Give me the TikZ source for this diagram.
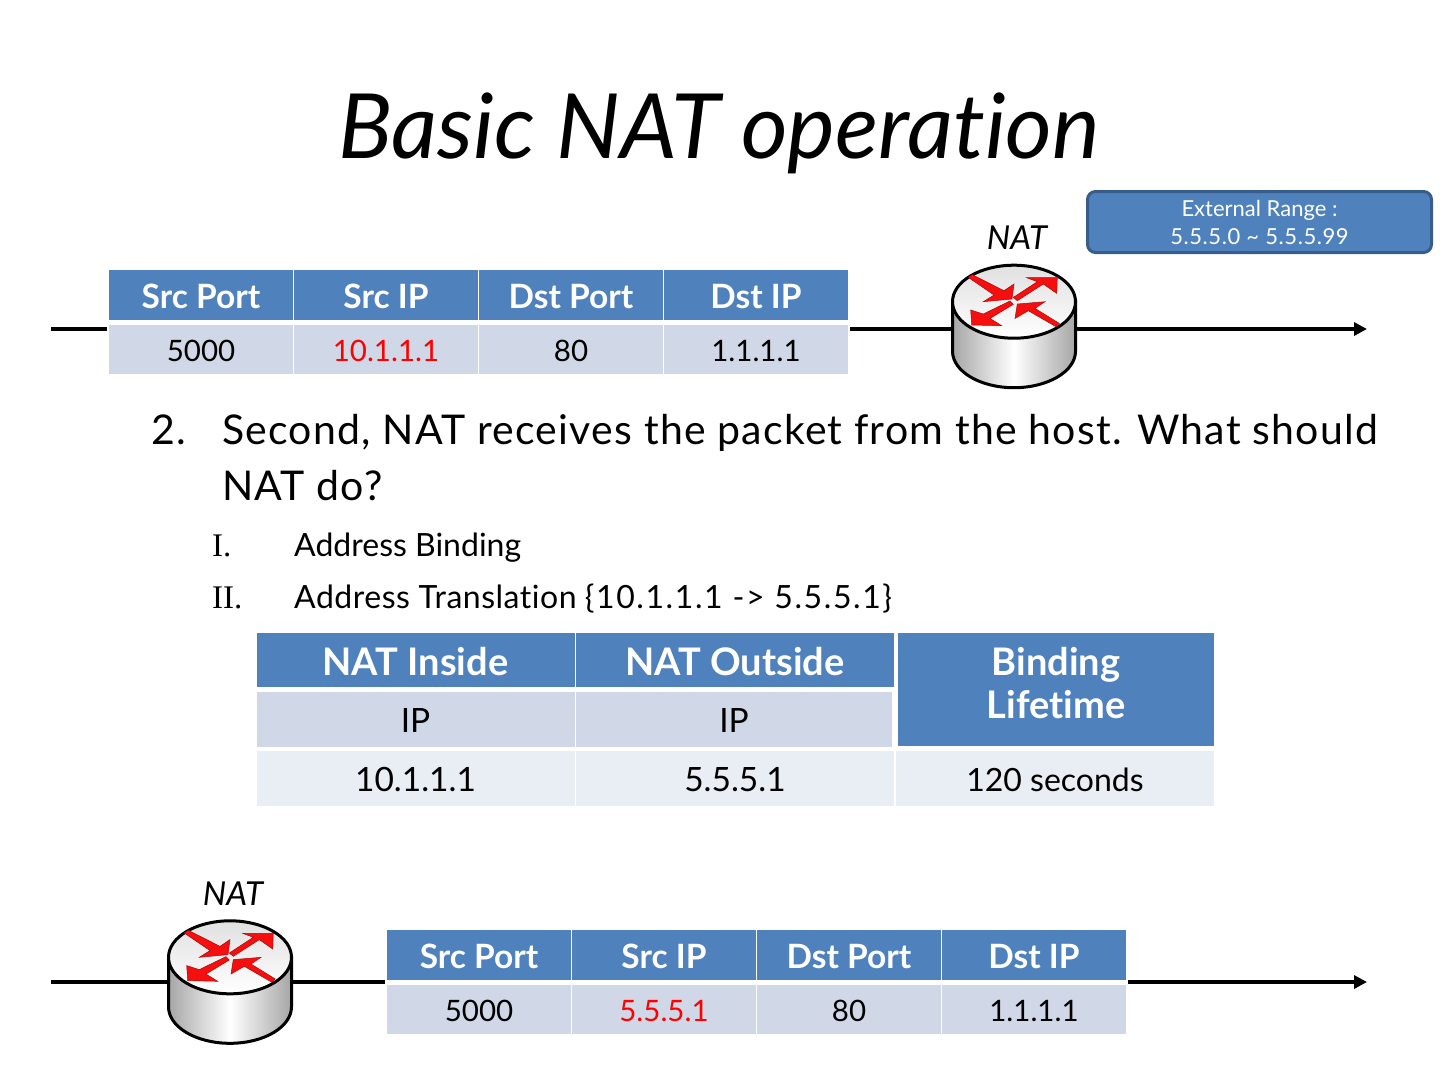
\documentclass[tikz,border=0pt]{standalone}
\usepackage{fontspec}
\setmainfont{Lato}[Ligatures=NoCommon]
\newfontfamily\romanfont{Liberation Serif}
\usetikzlibrary{arrows.meta}

\definecolor{hdrblue}{HTML}{4F81BD}
\definecolor{rowdark}{HTML}{D0D8E8}
\definecolor{rowlight}{HTML}{E9EDF4}
\definecolor{rangeedge}{HTML}{385D8A}
\definecolor{arrowred}{HTML}{F50F0F}

\newcommand{\spaced}[2]{{\addfontfeature{LetterSpace=#1}#2}}

\tikzset{
	wire/.style={line width=4pt},
	hdrcell/.style={fill=hdrblue,text=white,inner sep=0pt,minimum width=184pt,minimum height=50pt,
		font=\fontsize{33.5}{33.5}\selectfont\bfseries,text height=27pt,text depth=0pt},
	datacell/.style={fill=rowdark,inner sep=0pt,minimum width=184pt,minimum height=49pt,
		font=\fontsize{29.5}{29.5}\selectfont,text height=23pt,text depth=0pt},
	bighdr/.style={fill=hdrblue,text=white,inner sep=0pt,minimum width=318pt,minimum height=54pt,
		font=\fontsize{38}{38}\selectfont\bfseries,text height=31pt,text depth=0pt},
	bigdata/.style={inner sep=0pt,minimum width=318pt,minimum height=55pt,
		font=\fontsize{33.5}{33.5}\selectfont,text height=25pt,text depth=0pt},
	bodytext/.style={anchor=base west,inner sep=0pt,font=\fontsize{41}{41}\selectfont\addfontfeature{LetterSpace=3}},
	subtext/.style={anchor=base west,inner sep=0pt,font=\fontsize{32}{32}\selectfont},
	natlabel/.style={inner sep=0pt,font=\fontsize{33}{33}\selectfont\itshape},
	redarrow/.style={fill=arrowred,draw=arrowred!70!black,line width=.5pt},
}

% header row and data row of one packet
\newcommand{\packettable}[4]{
	\begin{scope}[shift={(#2,#3)},name prefix=#1-]
		\node[hdrcell] (sport) at (92,25){Src Port};
		\node[hdrcell] (sip) at (277,25){Src IP};
		\node[hdrcell] (dport) at (462,25){Dst Port};
		\node[hdrcell] (dip) at (647,25){Dst IP};
		\node[datacell] (vsport) at (92,79.5){5000};
		\node[datacell,text=red] (vsip) at (277,79.5){#4};
		\node[datacell] (vdport) at (462,79.5){80};
		\node[datacell] (vdip) at (647,79.5){1.1.1.1};
	\end{scope}
}

% router drawn around the centre of its top face
\newcommand{\natrouter}[3]{
	\node[minimum width=126pt,minimum height=126pt,inner sep=0pt] (#1) at (#2,#3+25){};
	\begin{scope}[shift={(#2,#3)}]
		\draw[line width=3pt,left color=black!35,right color=black!35,middle color=white]
			(-61.5,0) -- (-61.5,49.5) arc[start angle=180,end angle=360,x radius=61.5pt,y radius=36.5pt] -- (61.5,0) -- cycle;
		\draw[line width=3pt,top color=black!12,bottom color=white] (0,0) ellipse[x radius=61.5pt,y radius=36.5pt];
		\draw[redarrow] (-45.7,-24.3)--(-41.7,-27)--(-10,-11)--(0,-17.7)--(-2,-2.7)--(-30.7,0)--(-20,-6.7)--cycle;
		\draw[redarrow] (-0.7,-4.3)--(3.3,-1)--(29.3,-17.7)--(42.7,-8.3)--(43.3,-24)--(12.7,-24)--(23.3,-20)--cycle;
		\draw[redarrow] (-4,-0.7)--(-0.7,2.7)--(-24,16.7)--(-12.3,24)--(-42.3,23.3)--(-43.3,8.3)--(-30.7,12.3)--cycle;
		\draw[redarrow] (45.3,21.7)--(42,25)--(14.3,9)--(1,16.7)--(3.3,2.3)--(31,0)--(21,6.7)--cycle;
		\node[natlabel] (#1-label) at (3,-64){NAT};
	\end{scope}
}

\begin{document}
\begin{tikzpicture}[x=1pt,y=-1pt]
	\useasboundingbox (0,0) rectangle (1440,1080);

	\node[anchor=base,inner sep=0pt,font=\fontsize{90}{90}\selectfont\itshape] (title) at (719,158){Basic NAT operation};

	% top packet
	\packettable{top}{109}{270}{10.1.1.1}
	\natrouter{natTop}{1014}{301.7}
	\node[draw=rangeedge,fill=hdrblue,line width=3pt,rounded corners=8pt,minimum width=344pt,minimum height=61pt,
		inner sep=0pt,text=white,align=center,font=\fontsize{22}{28}\selectfont] (range) at (1259.5,222){External Range :\\\spaced{2.5}{5.5.5.0 \textasciitilde{} 5.5.5.99}};

	\coordinate (topStart) at (51,329);
	\coordinate (topEnd) at (1367,329);
	\draw[wire,shorten >=2pt] (topStart) -- (top-sport.west |- topStart);
	\draw[wire,shorten <=2pt] (top-dip.east |- topStart) -- (natTop.west |- topStart);
	\draw[wire,-{Triangle[length=13pt,width=13pt]}] (natTop.east |- topStart) -- (topEnd);

	% explanation
	\node[bodytext] (num) at (151,444){2.};
	\node[bodytext] (lineA) at (222,444){Second, NAT receives the packet from the host. What should};
	\node[bodytext] (lineB) at (222,500){NAT do?};
	\node[subtext,font=\fontsize{33}{33}\selectfont\romanfont] (romA) at (212,556){I.};
	\node[subtext] (subA) at (294,556){Address Binding};
	\node[subtext,font=\fontsize{33}{33}\selectfont\romanfont] (romB) at (212,608){II.};
	\node[subtext] (subB) at (294,608){\spaced{1.6}{Address Translation} \spaced{5}{\{10.1.1.1 -> 5.5.5.1\}}};

	% binding table
	\node[bighdr] (inside) at (415.5,660){NAT Inside};
	\node[bighdr] (outside) at (735,660){NAT Outside};
	\node[bigdata,fill=rowdark] (ipIn) at (415.5,719.5){IP};
	\node[bigdata,fill=rowdark,minimum width=316pt] (ipOut) at (734,719.5){IP};
	\node[bigdata,fill=rowlight] (valIn) at (415.5,778.5){10.1.1.1};
	\node[bigdata,fill=rowlight] (valOut) at (735,778.5){5.5.5.1};
	\node[fill=hdrblue,inner sep=0pt,minimum width=316pt,minimum height=113pt] (life) at (1056,689.5){};
	\node[text=white,inner sep=0pt,align=center,font=\fontsize{38}{43}\selectfont\bfseries] (lifeText) at (1056,683){Binding\\Lifetime};
	\node[bigdata,fill=rowlight,font=\fontsize{32}{32}\selectfont] (valLife) at (1055,778.5){120 seconds};

	% bottom packet
	\packettable{bot}{387}{930}{5.5.5.1}
	\natrouter{natBot}{230}{957.3}

	\coordinate (botStart) at (51,982);
	\coordinate (botEnd) at (1367,982);
	\draw[wire] (botStart) -- (natBot.west |- botStart);
	\draw[wire,shorten >=2pt] (natBot.east |- botStart) -- (bot-sport.west |- botStart);
	\draw[wire,shorten <=2pt,-{Triangle[length=13pt,width=13pt]}] (bot-dip.east |- botStart) -- (botEnd);
\end{tikzpicture}
\end{document}
